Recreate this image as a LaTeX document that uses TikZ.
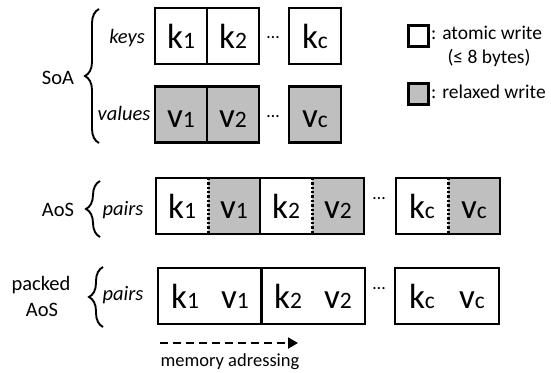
\documentclass[tikz,border=0pt]{standalone}
\usepackage{fontspec}
\setmainfont{Carlito}
\usetikzlibrary{decorations.pathreplacing,arrows.meta}
\definecolor{cellgray}{HTML}{BFBFBF}
\newcommand\elt[2]{{\fontsize{35}{35}\selectfont #1}{\fontsize{23.5}{24}\selectfont #2}}
\begin{document}
\begin{tikzpicture}[x=1pt,y=-1pt,
  cellbox/.style={draw, line width=2.6pt, minimum width=52pt, minimum height=56pt, inner sep=0pt, text height=25pt, text depth=0pt},
  wcell/.style={cellbox, fill=white},
  gcell/.style={cellbox, fill=cellgray},
  halfw/.style={minimum width=52pt, minimum height=56pt, inner sep=0pt, text height=25pt, text depth=0pt, fill=white},
  halfg/.style={halfw, fill=cellgray},
  pairbox/.style={draw, line width=2.6pt, minimum width=104pt, minimum height=56pt, inner sep=0pt},
  eltxt/.style={inner sep=0pt, text height=25pt, text depth=0pt},
  divider/.style={line width=2.8pt, dash pattern=on 2.4pt off 2pt},
  dotsn/.style={inner sep=0pt, font=\fontsize{18}{18}\selectfont},
  lbl/.style={inner sep=0pt, font=\fontsize{20.5}{22}\selectfont},
  ilbl/.style={lbl, font=\fontsize{20.5}{22}\selectfont\itshape},
  txt/.style={inner sep=0pt, font=\fontsize{19.5}{21}\selectfont},
  bracest/.style={decorate, decoration={brace, amplitude=14pt}, line width=1.9pt},
  legbox/.style={draw, line width=2.6pt, minimum width=20pt, minimum height=21pt, inner sep=0pt}
]
\useasboundingbox (0,0) rectangle (551,372);

% ---------- SoA ----------
\node[wcell] (k1) at (181,36) {\elt{k}{1}};
\node[wcell] (k2) at (233,36) {\elt{k}{2}};
\node[dotsn] (kd) at (273,38) {…};
\node[wcell] (kc) at (315,36) {\elt{k}{c}};

\node[gcell] (v1) at (181,114.5) {\elt{v}{1}};
\node[gcell] (v2) at (233,114.5) {\elt{v}{2}};
\node[dotsn] (vd) at (273,117) {…};
\node[gcell] (vc) at (315,114.5) {\elt{v}{c}};

\coordinate (sb1) at (99,143);
\coordinate (sb2) at (99,9);
\draw[bracest] (sb1) -- (sb2);
\node[lbl] (soa) at (58,78) {SoA};
\node[ilbl] (keys) at (127,38) {keys};
\node[ilbl] (values) at (124,113) {values};

% ---------- AoS ----------
\node[halfw] (ak1) at (182,206) {\elt{k}{1}};
\node[halfg] (av1) at (234,206) {\elt{v}{1}};
\node[pairbox] (ap1) at (208,206) {};
\draw[divider] (ak1.north east) -- (ak1.south east);

\node[halfw] (ak2) at (286,206) {\elt{k}{2}};
\node[halfg] (av2) at (338,206) {\elt{v}{2}};
\node[pairbox] (ap2) at (312,206) {};
\draw[divider] (ak2.north east) -- (ak2.south east);

\node[dotsn] (ad) at (379,199) {…};

\node[halfw] (akc) at (422,206) {\elt{k}{c}};
\node[halfg] (avc) at (474,206) {\elt{v}{c}};
\node[pairbox] (apc) at (448,206) {};
\draw[divider] (akc.north east) -- (akc.south east);

\coordinate (ab1) at (100,237);
\coordinate (ab2) at (100,181);
\draw[bracest] (ab1) -- (ab2);
\node[lbl] (aos) at (58,210) {AoS};
\node[ilbl] (pairsA) at (123,210) {pairs};

% ---------- packed AoS ----------
\node[pairbox] (pp1) at (210,296) {};
\node[eltxt] (pk1) at (185,296) {\elt{k}{1}};
\node[eltxt] (pv1) at (235,296) {\elt{v}{1}};

\node[pairbox] (pp2) at (313,296) {};
\node[eltxt] (pk2) at (288,296) {\elt{k}{2}};
\node[eltxt] (pv2) at (338,296) {\elt{v}{2}};

\node[dotsn] (pd) at (379,289) {…};

\node[pairbox] (ppc) at (447,296) {};
\node[eltxt] (pkc) at (422,296) {\elt{k}{c}};
\node[eltxt] (pvc) at (472,296) {\elt{v}{c}};

\coordinate (pb1) at (103,327);
\coordinate (pb2) at (103,267);
\draw[bracest] (pb1) -- (pb2);
\node[lbl] (packed) at (41,285) {packed};
\node[lbl] (aos2) at (42,310) {AoS};
\node[ilbl] (pairsP) at (123,295) {pairs};

% ---------- memory arrow ----------
\coordinate (arrS) at (160,343);
\coordinate (arrE) at (298,343);
\draw[line width=2pt, dash pattern=on 8pt off 5pt, -{Triangle[length=10pt,width=11pt]}] (arrS) -- (arrE);
\node[txt, font=\fontsize{18.5}{20}\selectfont] (mem) at (230,362) {memory adressing};

% ---------- legend ----------
\node[legbox, fill=white] (lga) at (418.5,36) {};
\node[txt, anchor=base west] (lgat) at (431,39) {: atomic write};
\node[txt, anchor=base] (lgab) at (489,63) {(≤ 8 bytes)};
\node[legbox, fill=cellgray] (lgr) at (418.5,94) {};
\node[txt, anchor=base west] (lgrt) at (431,98) {: relaxed write};
\end{tikzpicture}
\end{document}
